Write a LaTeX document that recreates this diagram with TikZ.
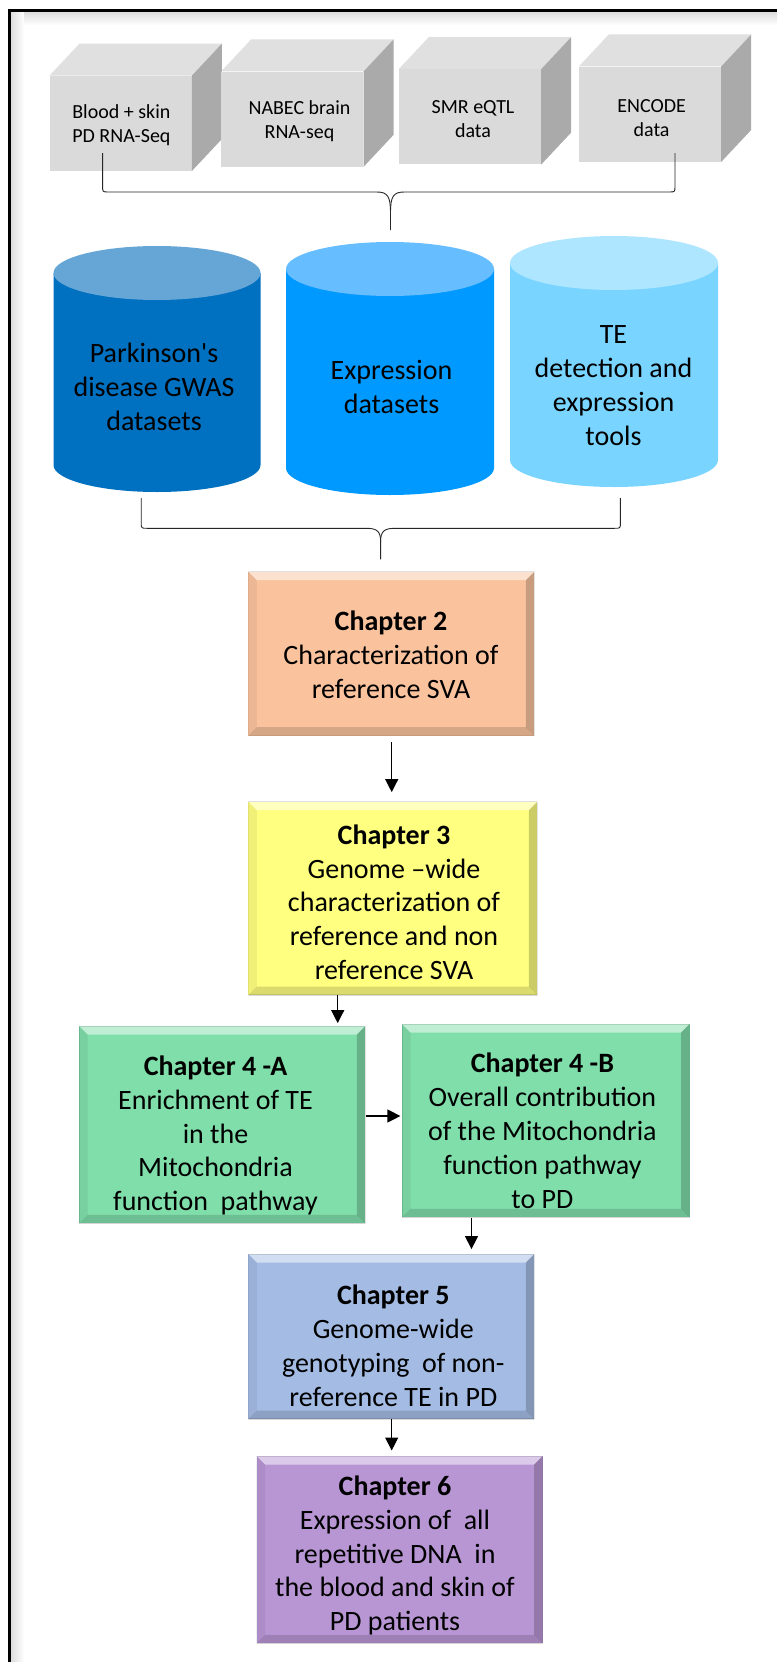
\documentclass[tikz,border=0pt]{standalone}
\usepackage{fontspec}
\setmainfont{Carlito}
\usetikzlibrary{arrows.meta,calc}
\definecolor{cubefront}{RGB}{218,218,218}
\definecolor{cubetop}{RGB}{224,224,224}
\definecolor{cubeside}{RGB}{170,170,170}
\definecolor{cylAbody}{RGB}{0,112,192}
\definecolor{cylAtop}{RGB}{102,166,214}
\definecolor{cylBbody}{RGB}{0,153,255}
\definecolor{cylBtop}{RGB}{102,189,255}
\definecolor{cylCbody}{RGB}{121,213,255}
\definecolor{cylCtop}{RGB}{175,230,255}
\definecolor{chA}{RGB}{250,195,158}
\definecolor{chB}{RGB}{255,255,128}
\definecolor{chC}{RGB}{128,222,170}
\definecolor{chD}{RGB}{164,188,228}
\definecolor{chE}{RGB}{184,150,212}
\newcommand\datacube[4]{%
  \node[cubefrontbox] (#1) at (#2) {};
  \fill[cubetop] (#1.north west) -- ++(30,-32) -- ($(#1.north east)+(30,-32)$) -- (#1.north east) -- cycle;
  \fill[cubeside] (#1.north east) -- ++(30,-32) -- ($(#1.south east)+(30,-32)$) -- (#1.south east) -- cycle;
  \node[cubetext] (#1t) at (#3) {#4};
}
\newcommand\datacyl[7]{% name, cx, rx, top cy, bottom cy, body, top
  \fill[#6] ({#2-#3},#4) -- ({#2-#3},#5) arc[start angle=180, end angle=360, x radius=#3pt, y radius=27pt] -- ({#2+#3},#4) -- cycle;
  \fill[#7] (#2,#4) ellipse[x radius=#3pt, y radius=27pt];
  \coordinate (#1) at (#2,{(#4+#5)/2});
}
\begin{document}
\begin{tikzpicture}[x=1pt,y=-1pt,
  cubefrontbox/.style={fill=cubefront, inner sep=0pt, minimum width=142pt, minimum height=95pt},
  cubetext/.style={align=center, inner sep=0pt, font=\fontsize{20}{24}\selectfont},
  cyltext/.style={align=center, inner sep=0pt, font=\fontsize{28}{34}\selectfont},
  chaptext/.style={align=center, inner sep=0pt, font=\fontsize{28}{33.8}\selectfont},
  bracel/.style={line width=0.9pt, black!85},
  arr/.style={line width=1.2pt, -{Triangle[width=13pt,length=13pt]}},
  chap/.style={fill=#1, inner sep=0pt,
    path picture={
      \fill[white,opacity=0.5] (path picture bounding box.north west) -- (path picture bounding box.north east) -- ([shift={(-8.5pt,-8.5pt)}]path picture bounding box.north east) -- ([shift={(8.5pt,-8.5pt)}]path picture bounding box.north west) -- cycle;
      \fill[black,opacity=0.06] (path picture bounding box.north west) -- (path picture bounding box.south west) -- ([shift={(8.5pt,8.5pt)}]path picture bounding box.south west) -- ([shift={(8.5pt,-8.5pt)}]path picture bounding box.north west) -- cycle;
      \fill[black,opacity=0.2] (path picture bounding box.north east) -- (path picture bounding box.south east) -- ([shift={(-8.5pt,8.5pt)}]path picture bounding box.south east) -- ([shift={(-8.5pt,-8.5pt)}]path picture bounding box.north east) -- cycle;
      \fill[black,opacity=0.14] (path picture bounding box.south west) -- (path picture bounding box.south east) -- ([shift={(-8.5pt,8.5pt)}]path picture bounding box.south east) -- ([shift={(8.5pt,8.5pt)}]path picture bounding box.south west) -- cycle;
      \draw[black,opacity=0.12,line width=1.2pt] (path picture bounding box.south west) rectangle (path picture bounding box.north east);
    }},
]
\useasboundingbox (0,0) rectangle (777,1662);
\fill[white] (0,0) rectangle (777,1662);
% frame with inner shadow
\shade[left color=black!14, right color=white] (10.5,11.5) rectangle (24,1662);
\shade[top color=black!14, bottom color=white] (24,11.5) rectangle (777,25);
\draw[line width=2.4pt] (9.5,1662) -- (9.5,10.5) -- (777,10.5);

% cubes
\datacube{c1}{120.7,123.3}{121.4,125}{Blood + skin\\PD RNA-Seq}
\datacube{c2}{292.3,119.2}{299.5,121}{NABEC brain\\RNA-seq}
\datacube{c3}{470,116.8}{473,119}{SMR eQTL\\data}
\datacube{c4}{650,114.2}{651.6,118}{ENCODE\\data}

% brace 1
\coordinate (b1a) at (102.6,153);
\coordinate (b1b) at (675,153);
\coordinate (b1c) at (390.5,230);
\draw[bracel] (b1a) -- (102.6,186) .. controls (102.6,192) .. (108.6,192) -- (376.5,192) .. controls (387.5,192) and (390.5,196) .. (390.5,213) -- (b1c);
\draw[bracel] (b1b) -- (675,186) .. controls (675,192) .. (669,192) -- (404.5,192) .. controls (393.5,192) and (390.5,196) .. (390.5,213);

% cylinders
\datacyl{cy1}{157}{103.5}{273}{465}{cylAbody}{cylAtop}
\datacyl{cy2}{390}{104}{269}{468}{cylBbody}{cylBtop}
\datacyl{cy3}{614}{104}{263}{460}{cylCbody}{cylCtop}
\node[cyltext] (cy1t) at (154,387) {Parkinson\textquotesingle s\\disease GWAS\\datasets};
\node[cyltext] (cy2t) at (391.5,387) {Expression\\datasets};
\node[cyltext] (cy3t) at (613.5,386) {TE\\detection and\\expression\\tools};

% brace 2
\coordinate (b2a) at (141.2,498);
\coordinate (b2b) at (620.4,498);
\coordinate (b2c) at (380.6,559.3);
\draw[bracel] (b2a) -- (141.2,522.3) .. controls (141.2,528.3) .. (147.2,528.3) -- (366.6,528.3) .. controls (377.6,528.3) and (380.6,532) .. (380.6,541.7) -- (b2c);
\draw[bracel] (b2b) -- (620.4,522.3) .. controls (620.4,528.3) .. (614.4,528.3) -- (394.6,528.3) .. controls (383.6,528.3) and (380.6,532) .. (380.6,541.7);

% chapter boxes
\node[chap=chA, minimum width=286pt, minimum height=164pt] (ch2) at (391.3,653.7) {};
\node[chaptext] (ch2t) at (391,654.8) {\textbf{Chapter 2}\\Characterization of\\reference SVA};

\node[chap=chB, minimum width=289pt, minimum height=193.3pt] (ch3) at (392.8,898.35) {};
\node[chaptext] (ch3t) at (394,902.2) {\textbf{Chapter 3}\\Genome –wide\\characterization of\\reference and non\\reference SVA};

\node[chap=chC, minimum width=286.2pt, minimum height=197.3pt] (ch4a) at (222.3,1124.65) {};
\node[chaptext] (ch4at) at (215.5,1135.5) {\textbf{Chapter 4 -A}\\Enrichment of TE\\in the\\Mitochondria\\function\ \ pathway};

\node[chap=chC, minimum width=287.6pt, minimum height=193.3pt] (ch4b) at (545.8,1120.65) {};
\node[chaptext] (ch4bt) at (542.4,1130.8) {\textbf{Chapter 4 -B}\\Overall contribution\\of the Mitochondria\\function pathway\\to PD};

\node[chap=chD, minimum width=286pt, minimum height=165pt] (ch5) at (391.3,1336.5) {};
\node[chaptext] (ch5t) at (393.3,1345.9) {\textbf{Chapter 5}\\Genome-wide\\genotyping\ \ of non-\\reference TE in PD};

\node[chap=chE, minimum width=286pt, minimum height=187.3pt] (ch6) at (399.7,1549.65) {};
\node[chaptext] (ch6t) at (395,1555.5) {\textbf{Chapter 6}\\Expression of\ \ all\\repetitive DNA\ \ in\\the blood and skin of\\PD patients};

% arrows
\coordinate (x23) at (391.7,0);
\coordinate (x34) at (337.7,0);
\coordinate (y44) at (0,1116);
\coordinate (x45) at (471.5,0);
\coordinate (x56) at (391.7,0);
\draw[arr, shorten <=6pt, shorten >=9.4pt] (x23 |- ch2.south) -- (x23 |- ch3.north);
\draw[arr, shorten >=2.7pt] (x34 |- ch3.south) -- (x34 |- ch4a.north);
\draw[arr, shorten >=1.4pt] (ch4a.east |- y44) -- (ch4b.west |- y44);
\draw[arr, shorten >=4.7pt] (x45 |- ch4b.south) -- (x45 |- ch5.north);
\draw[arr, shorten >=5.3pt] (x56 |- ch5.south) -- (x56 |- ch6.north);
\end{tikzpicture}
\end{document}
